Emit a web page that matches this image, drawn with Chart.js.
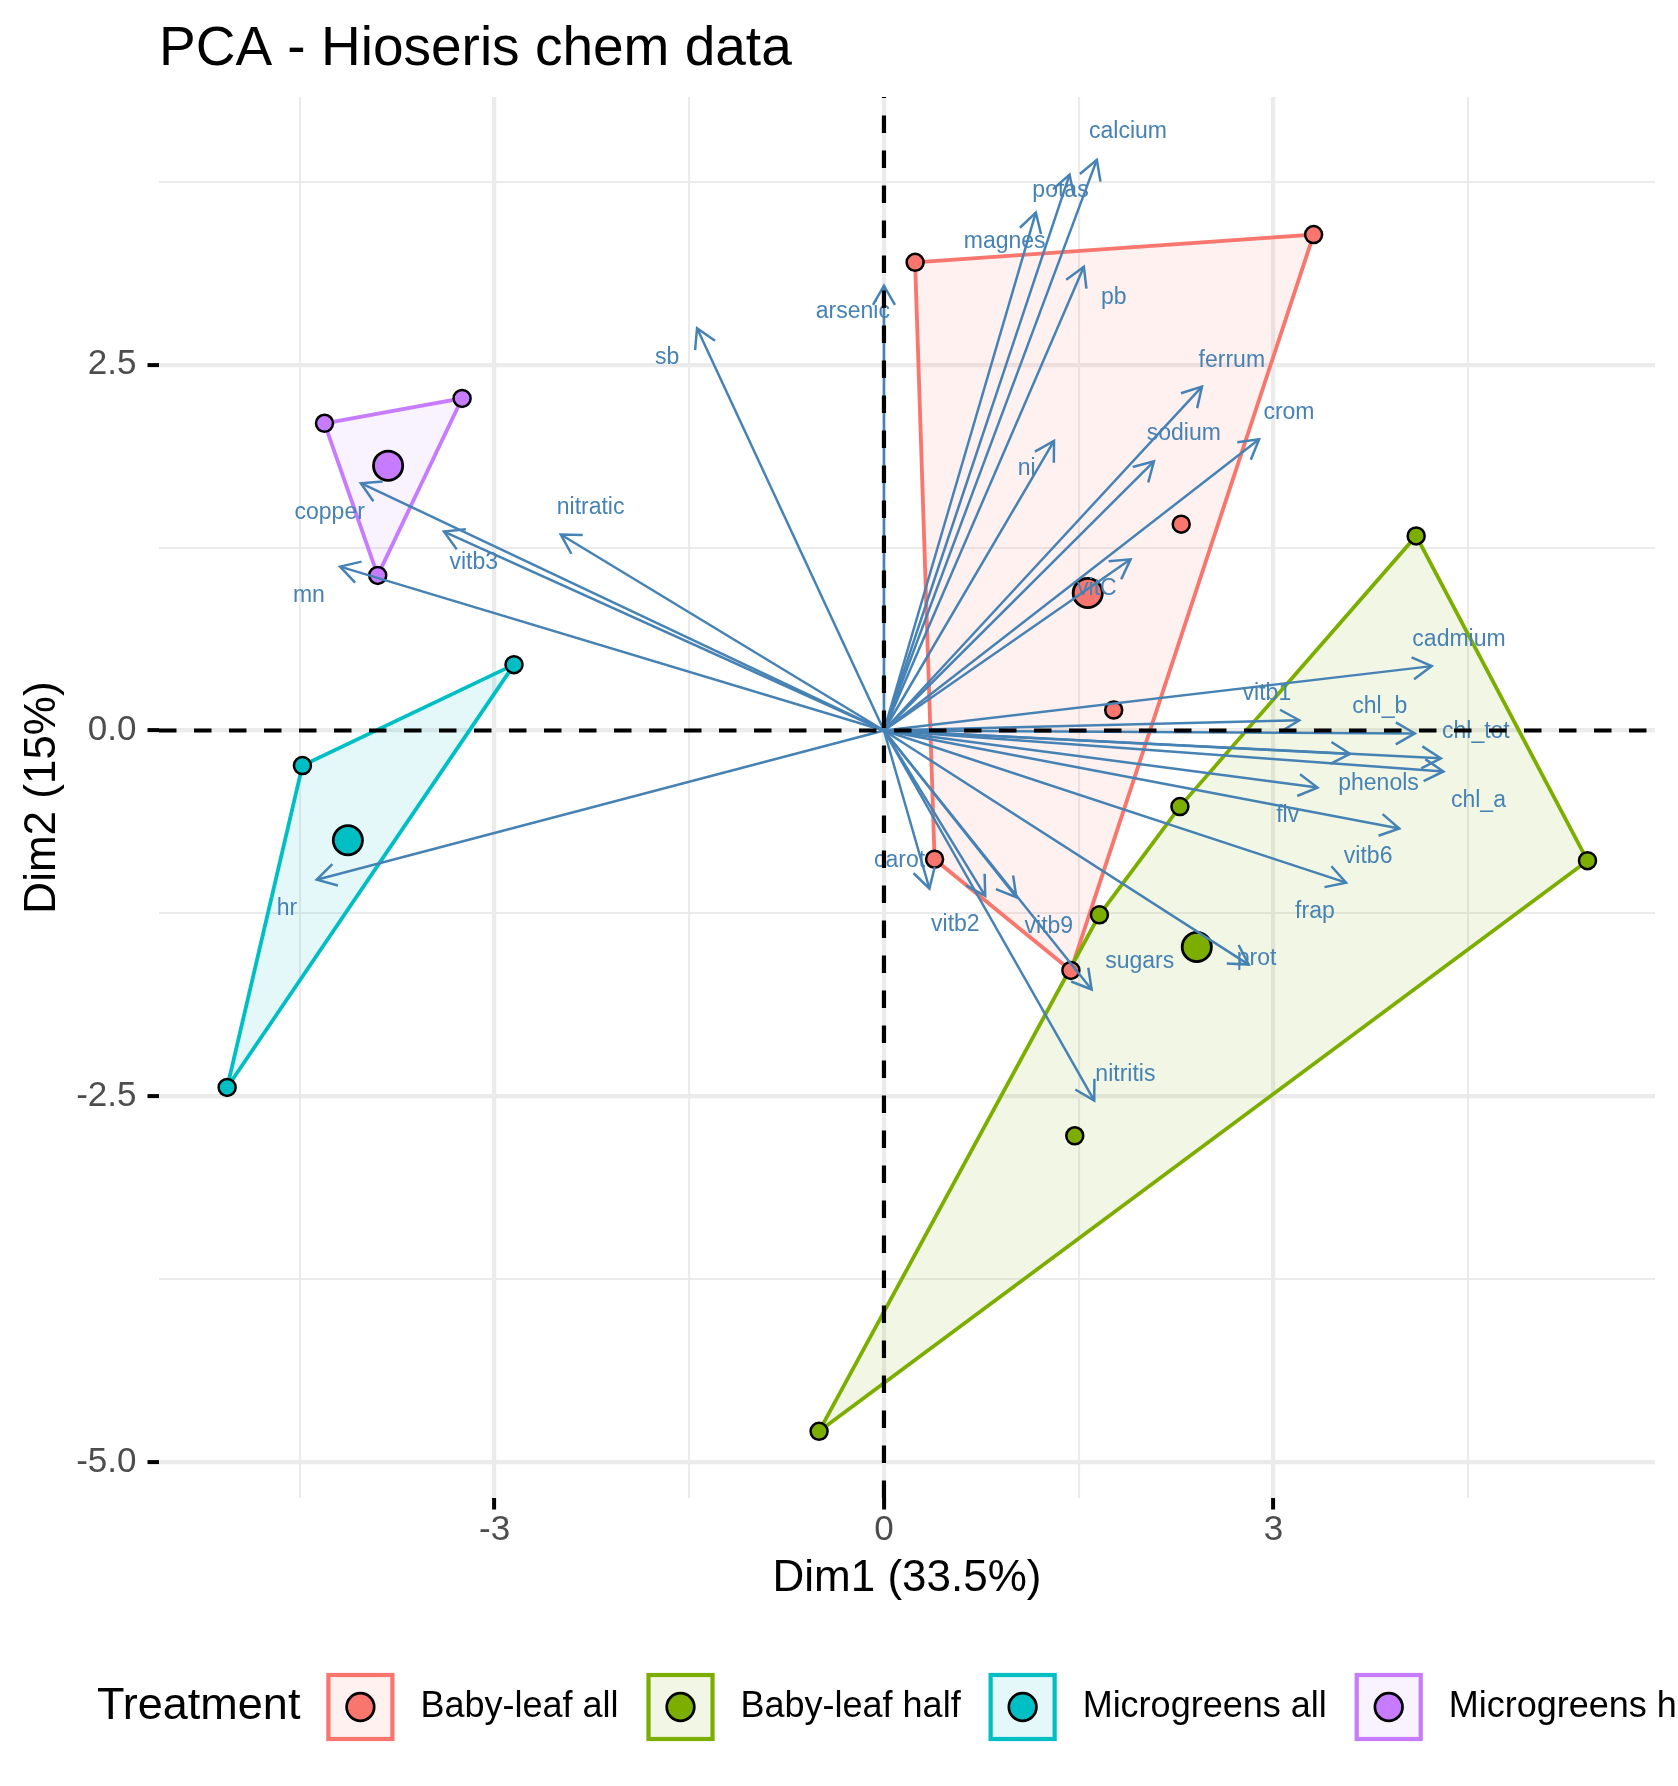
<!DOCTYPE html>
<html lang="en">
<head>
  <meta charset="UTF-8">
  <title>PCA - Hioseris chem data</title>
  <script src="https://cdn.jsdelivr.net/npm/chart.js"></script>
  <style>
    html, body {
      margin: 0;
      padding: 0;
      background: #ffffff;
      overflow: hidden;
    }
    #wrap {
      width: 1678px;
      height: 1786px;
    }
  </style>
</head>
<body>
  <div id="wrap"><canvas id="pcaChart" width="1678" height="1786"></canvas></div>

  <script>
    // groups
    const groupNames = ['Baby-leaf all', 'Baby-leaf half', 'Microgreens all', 'Microgreens half'];
    const groupColors = ['#F8766D', '#7CAE00', '#00BFC4', '#C77CFF'];

    // individuals on Dim1 / Dim2
    const babyAllX = [0.24, 3.31, 2.29, 1.77, 0.39, 1.44];
    const babyAllY = [3.20, 3.39, 1.41, 0.14, -0.88, -1.64];
    const babyHalfX = [4.10, 5.42, 2.28, 1.66, 1.47, -0.50];
    const babyHalfY = [1.33, -0.89, -0.52, -1.26, -2.77, -4.79];
    const microAllX = [-2.85, -4.48, -5.06];
    const microAllY = [0.45, -0.24, -2.44];
    const microHalfX = [-4.31, -3.25, -3.90];
    const microHalfY = [2.10, 2.27, 1.06];

    // group means (big points)
    const meanX = [1.57, 2.41, -4.13, -3.82];
    const meanY = [0.94, -1.48, -0.75, 1.81];

    // variables (arrow tips) and where their names sit
    const varNames = ['calcium', 'potas', 'magnes', 'pb', 'arsenic', 'sb', 'ferrum', 'crom', 'ni', 'sodium',
                      'vitC', 'copper', 'vitb3', 'nitratic', 'mn', 'hr', 'cadmium', 'vitb1', 'chl_b', 'chl_tot',
                      'chl_a', 'phenols', 'flv', 'vitb6', 'frap', 'carot', 'vitb2', 'vitb9', 'sugars', 'prot', 'nitritis'];
    const varX = [1.64, 1.43, 1.17, 1.54, 0.00, -1.44, 2.45, 2.89, 1.31, 2.08,
                  1.90, -4.03, -3.39, -2.49, -4.19, -4.37, 4.22, 3.20, 4.09, 4.29,
                  4.31, 3.59, 3.34, 3.97, 3.56, 0.35, 0.78, 1.02, 1.60, 2.81, 1.62];
    const varY = [3.90, 3.80, 3.54, 3.17, 3.04, 2.75, 2.35, 1.99, 1.98, 1.84,
                  1.17, 1.69, 1.36, 1.34, 1.12, -1.02, 0.44, 0.07, -0.02, -0.19,
                  -0.28, -0.16, -0.39, -0.67, -1.04, -1.08, -1.13, -1.14, -1.77, -1.60, -2.53];
    const labelX = [1.88, 1.36, 0.93, 1.77, -0.24, -1.67, 2.68, 3.12, 1.10, 2.31,
                    1.64, -4.27, -3.16, -2.26, -4.43, -4.60, 4.43, 2.95, 3.82, 4.56,
                    4.58, 3.81, 3.11, 3.73, 3.32, 0.12, 0.55, 1.27, 1.97, 2.87, 1.86];
    const labelY = [4.09, 3.69, 3.34, 2.96, 2.86, 2.55, 2.53, 2.17, 1.79, 2.03,
                    0.97, 1.49, 1.15, 1.52, 0.92, -1.22, 0.62, 0.25, 0.16, -0.01,
                    -0.48, -0.36, -0.58, -0.86, -1.24, -0.89, -1.33, -1.34, -1.58, -1.56, -2.35];

    // axis ticks
    const xTicks = [-4.5, -3, -1.5, 0, 1.5, 3, 4.5];
    const yTicks = [-5, -3.75, -2.5, -1.25, 0, 1.25, 2.5, 3.75];

    const groupX = [babyAllX, babyHalfX, microAllX, microHalfX];
    const groupY = [babyAllY, babyHalfY, microAllY, microHalfY];

    const arrowColor = '#4682B4';
    const fontFamily = '"Liberation Sans", Arial, Helvetica, sans-serif';

    function withAlpha(hex, a) {
      const n = parseInt(hex.slice(1), 16);
      return 'rgba(' + (n >> 16) + ',' + ((n >> 8) & 255) + ',' + (n & 255) + ',' + a + ')';
    }

    // convex hull (monotone chain), returned closed
    function convexHull(xs, ys) {
      const pts = xs.map((v, i) => ({x: v, y: ys[i]})).sort((a, b) => a.x - b.x || a.y - b.y);
      const cross = (o, a, b) => (a.x - o.x) * (b.y - o.y) - (a.y - o.y) * (b.x - o.x);
      const lower = [], upper = [];
      for (const p of pts) {
        while (lower.length >= 2 && cross(lower[lower.length - 2], lower[lower.length - 1], p) <= 0) lower.pop();
        lower.push(p);
      }
      for (let i = pts.length - 1; i >= 0; i--) {
        const p = pts[i];
        while (upper.length >= 2 && cross(upper[upper.length - 2], upper[upper.length - 1], p) <= 0) upper.pop();
        upper.push(p);
      }
      const h = lower.slice(0, -1).concat(upper.slice(0, -1));
      h.push(h[0]);
      return h;
    }

    const datasets = [];
    groupNames.forEach((name, g) => {
      datasets.push({
        label: name + ' hull',
        data: convexHull(groupX[g], groupY[g]),
        showLine: true,
        fill: 'shape',
        borderColor: groupColors[g],
        backgroundColor: withAlpha(groupColors[g], 0.1),
        borderWidth: 3.8,
        pointRadius: 0,
        order: 40 - g
      });
    });
    groupNames.forEach((name, g) => {
      datasets.push({
        label: name,
        data: groupX[g].map((v, i) => ({x: v, y: groupY[g][i]})),
        pointRadius: 8.5,
        borderWidth: 2.5,
        borderColor: '#000000',
        backgroundColor: groupColors[g],
        order: 30
      });
    });
    datasets.push({
      label: 'means',
      data: meanX.map((v, i) => ({x: v, y: meanY[i]})),
      pointRadius: 14.6,
      borderWidth: 2.8,
      borderColor: '#000000',
      backgroundColor: groupColors,
      order: 20
    });
    varNames.forEach((name, i) => {
      datasets.push({
        label: name,
        data: [{x: 0, y: 0}, {x: varX[i], y: varY[i]}],
        showLine: true,
        borderColor: arrowColor,
        borderWidth: 2.5,
        pointRadius: 0,
        order: 10
      });
    });

    // arrow heads, variable names, dashed zero lines, title, axis titles, legend
    const biplotExtras = {
      id: 'biplotExtras',
      afterDatasetsDraw(chart) {
        const {ctx, chartArea: area, scales: {x, y}} = chart;
        const x0 = x.getPixelForValue(0), y0 = y.getPixelForValue(0);
        ctx.save();
        ctx.strokeStyle = arrowColor;
        ctx.lineWidth = 2.5;
        for (let i = 0; i < varNames.length; i++) {
          const x1 = x.getPixelForValue(varX[i]), y1 = y.getPixelForValue(varY[i]);
          const ang = Math.atan2(y1 - y0, x1 - x0);
          const len = 22, spread = Math.PI / 6;
          ctx.beginPath();
          ctx.moveTo(x1 - len * Math.cos(ang - spread), y1 - len * Math.sin(ang - spread));
          ctx.lineTo(x1, y1);
          ctx.lineTo(x1 - len * Math.cos(ang + spread), y1 - len * Math.sin(ang + spread));
          ctx.stroke();
        }
        ctx.fillStyle = arrowColor;
        ctx.font = '23px ' + fontFamily;
        ctx.textAlign = 'center';
        ctx.textBaseline = 'middle';
        varNames.forEach((n, i) => {
          ctx.fillText(n, x.getPixelForValue(labelX[i]), y.getPixelForValue(labelY[i]));
        });
        // dashed lines through the origin
        ctx.strokeStyle = '#000000';
        ctx.lineWidth = 4.2;
        ctx.setLineDash([17.5, 17.5]);
        ctx.beginPath();
        ctx.moveTo(area.left, y0);
        ctx.lineTo(area.right, y0);
        ctx.moveTo(x0, area.bottom);
        ctx.lineTo(x0, area.top);
        ctx.stroke();
        ctx.restore();
      },
      afterDraw(chart) {
        const {ctx, chartArea: area} = chart;
        ctx.save();
        ctx.fillStyle = '#000000';
        ctx.textBaseline = 'alphabetic';
        ctx.textAlign = 'left';
        ctx.font = '55px ' + fontFamily;
        ctx.fillText('PCA - Hioseris chem data', area.left, 65);

        ctx.font = '44px ' + fontFamily;
        ctx.textAlign = 'center';
        ctx.fillText('Dim1 (33.5%)', (area.left + area.right) / 2, 1591);
        ctx.save();
        ctx.translate(43, (area.top + area.bottom) / 2);
        ctx.rotate(-Math.PI / 2);
        ctx.textBaseline = 'middle';
        ctx.fillText('Dim2 (15%)', 0, 0);
        ctx.restore();

        // legend
        const ly = 1707, key = 68;
        let lx = 97;
        ctx.textAlign = 'left';
        ctx.textBaseline = 'middle';
        ctx.font = '45px ' + fontFamily;
        ctx.fillText('Treatment', lx, ly);
        lx += ctx.measureText('Treatment').width + 26;
        groupNames.forEach((g, i) => {
          ctx.fillStyle = withAlpha(groupColors[i], 0.1);
          ctx.fillRect(lx, ly - key / 2, key, key);
          ctx.strokeStyle = groupColors[i];
          ctx.lineWidth = 4.2;
          ctx.strokeRect(lx + 2, ly - key / 2 + 2, key - 4, key - 4);
          ctx.beginPath();
          ctx.arc(lx + key / 2, ly, 13.8, 0, Math.PI * 2);
          ctx.fillStyle = groupColors[i];
          ctx.fill();
          ctx.lineWidth = 2.7;
          ctx.strokeStyle = '#000000';
          ctx.stroke();
          lx += key + 26;
          ctx.fillStyle = '#000000';
          ctx.font = '36px ' + fontFamily;
          ctx.fillText(g, lx, ly);
          lx += ctx.measureText(g).width + 28;
        });
        ctx.restore();
      }
    };

    const isMajorX = v => Math.abs(v % 3) < 1e-9;
    const isMajorY = v => Math.abs(v % 2.5) < 1e-9;

    new Chart(document.getElementById('pcaChart'), {
      type: 'scatter',
      data: {datasets: datasets},
      options: {
        responsive: false,
        animation: false,
        events: [],
        layout: {padding: {left: 0, top: 97, right: 23, bottom: 0}},
        plugins: {
          legend: {display: false},
          tooltip: {enabled: false},
          filler: {propagate: false}
        },
        scales: {
          x: {
            type: 'linear',
            min: -5.585,
            max: 5.94,
            bounds: 'data',
            afterBuildTicks: s => { s.ticks = xTicks.map(v => ({value: v})); },
            afterFit: s => { s.height = 288; },
            border: {display: false},
            grid: {
              color: '#EBEBEB',
              lineWidth: c => isMajorX(c.tick.value) ? 4.2 : 2.1,
              drawTicks: true,
              tickLength: 11.5,
              tickWidth: 4,
              tickColor: c => isMajorX(c.tick.value) ? '#000000' : 'rgba(0,0,0,0)'
            },
            ticks: {
              autoSkip: false,
              maxRotation: 0,
              padding: 0,
              color: '#4D4D4D',
              font: {family: fontFamily, size: 35},
              callback: v => isMajorX(v) ? String(v) : ''
            }
          },
          y: {
            type: 'linear',
            min: -5.246,
            max: 4.33,
            bounds: 'data',
            afterBuildTicks: s => { s.ticks = yTicks.map(v => ({value: v})); },
            afterFit: s => { s.width = 159; },
            border: {display: false},
            grid: {
              color: '#EBEBEB',
              lineWidth: c => isMajorY(c.tick.value) ? 4.2 : 2.1,
              drawTicks: true,
              tickLength: 11.5,
              tickWidth: 4,
              tickColor: c => isMajorY(c.tick.value) ? '#000000' : 'rgba(0,0,0,0)'
            },
            ticks: {
              autoSkip: false,
              padding: 11,
              color: '#4D4D4D',
              font: {family: fontFamily, size: 35},
              callback: v => isMajorY(v) ? v.toFixed(1) : ''
            }
          }
        }
      },
      plugins: [biplotExtras]
    });
  </script>
</body>
</html>
